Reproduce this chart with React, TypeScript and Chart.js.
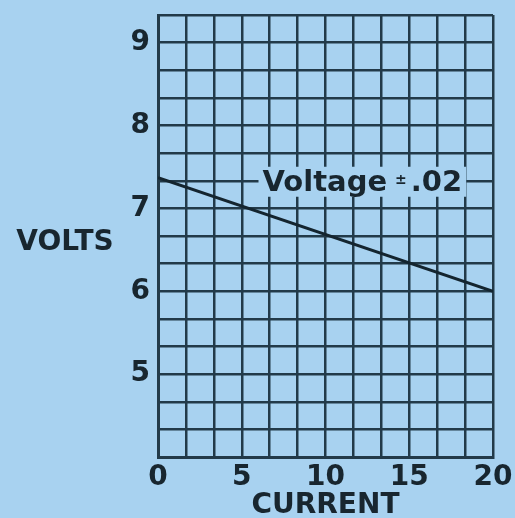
import React, { useEffect, useRef } from 'react';
import { Chart, registerables } from 'chart.js';

Chart.register(...registerables);

// ---- data ----
const current = [0, 20];
const volts = [7.37, 6.0];
const xTickLabels = [0, 5, 10, 15, 20];
const yTickLabels = [5, 6, 7, 8, 9];
const xRange = [0, 20];
const yRange = [4, 28 / 3];
const xStep = 5 / 3;
const yStep = 1 / 3;
const noteParts = ['Voltage', '\u00B1', '.02'];
const notePos = [12.2, 22 / 3];
const xTitle = 'CURRENT';
const yTitle = 'VOLTS';
const yTitleAt = 6.58;

const BG = '#a8d2f0';
const INK = '#18262f';
const GRID = '#223a49';
const FONT = '"DejaVu Sans", sans-serif';

const near = (v: number, list: number[]) => list.find((t) => Math.abs(v - t) < 1e-6);

const notePlugin = {
  id: 'notePlugin',
  afterDatasetsDraw(chart: any) {
    const { ctx, scales, chartArea } = chart;
    const xs = scales.x;
    const ys = scales.y;
    const cx = xs.getPixelForValue(notePos[0]);
    const cy = ys.getPixelForValue(notePos[1]);
    ctx.save();
    const big = `bold 29px ${FONT}`;
    const small = `bold 14px ${FONT}`;
    ctx.font = big;
    const w1 = ctx.measureText(noteParts[0]).width;
    const w3 = ctx.measureText(noteParts[2]).width;
    ctx.font = small;
    const w2 = ctx.measureText(noteParts[1]).width;
    const gap1 = 8;
    const gap2 = 4;
    const total = w1 + gap1 + w2 + gap2 + w3;
    const x0 = cx - total / 2;
    ctx.fillStyle = BG;
    ctx.fillRect(x0 - 4, cy - 14, total + 8, 30);
    ctx.fillStyle = INK;
    ctx.textBaseline = 'alphabetic';
    ctx.textAlign = 'left';
    ctx.font = big;
    ctx.fillText(noteParts[0], x0, cy + 10);
    ctx.font = small;
    ctx.fillText(noteParts[1], x0 + w1 + gap1, cy + 3);
    ctx.font = big;
    ctx.fillText(noteParts[2], x0 + w1 + gap1 + w2 + gap2, cy + 10);

    // horizontal y-axis title
    ctx.font = `bold 28px ${FONT}`;
    ctx.textAlign = 'center';
    ctx.textBaseline = 'middle';
    ctx.fillText(yTitle, chartArea.left - 93, ys.getPixelForValue(yTitleAt));
    ctx.restore();
  },
};

export default function App() {
  const ref = useRef<HTMLCanvasElement | null>(null);
  useEffect(() => {
    if (!ref.current) return;
    const chart = new Chart(ref.current, {
      type: 'line',
      data: {
        datasets: [
          {
            data: current.map((c, i) => ({ x: c, y: volts[i] })),
            borderColor: '#14252f',
            borderWidth: 3,
            pointRadius: 0,
            tension: 0,
          },
        ],
      },
      options: {
        animation: false,
        responsive: false,
        layout: { padding: { top: 15, right: 22, left: 0, bottom: 0 } },
        plugins: { legend: { display: false }, tooltip: { enabled: false } },
        scales: {
          x: {
            type: 'linear',
            min: xRange[0],
            max: xRange[1],
            ticks: {
              stepSize: xStep,
              autoSkip: false,
              maxRotation: 0,
              padding: 4,
              color: INK,
              font: { family: FONT, size: 28, weight: 'bold' },
              callback: (v: any) => {
                const t = near(Number(v), xTickLabels);
                return t === undefined ? '' : String(t);
              },
            },
            grid: { color: GRID, lineWidth: 2.5, drawTicks: false },
            border: { display: true, color: GRID, width: 3 },
            title: {
              display: true,
              text: xTitle,
              color: INK,
              font: { family: FONT, size: 28, weight: 'bold', lineHeight: 1 },
              padding: { top: 0, bottom: -2 },
            },
            afterFit: (s: any) => {
              s.height = 61;
              s.paddingLeft = 0;
              s.paddingRight = 0;
            },
          },
          y: {
            type: 'linear',
            min: yRange[0],
            max: yRange[1],
            ticks: {
              stepSize: yStep,
              autoSkip: false,
              padding: 8,
              color: INK,
              font: { family: FONT, size: 28, weight: 'bold' },
              callback: (v: any) => {
                const t = near(Number(v), yTickLabels);
                return t === undefined ? '' : String(t);
              },
            },
            grid: { color: GRID, lineWidth: 2.5, drawTicks: false },
            border: { display: true, color: GRID, width: 3 },
            afterFit: (s: any) => {
              s.width = 158;
              s.paddingTop = 0;
              s.paddingBottom = 0;
            },
          },
        },
      } as any,
      plugins: [notePlugin],
    });
    return () => chart.destroy();
  }, []);
  return (
    <div style={{ position: 'fixed', left: 0, top: 0, width: 515, height: 518, background: BG }}>
      <canvas ref={ref} width={515} height={518} style={{ width: 515, height: 518, display: 'block' }} />
    </div>
  );
}
